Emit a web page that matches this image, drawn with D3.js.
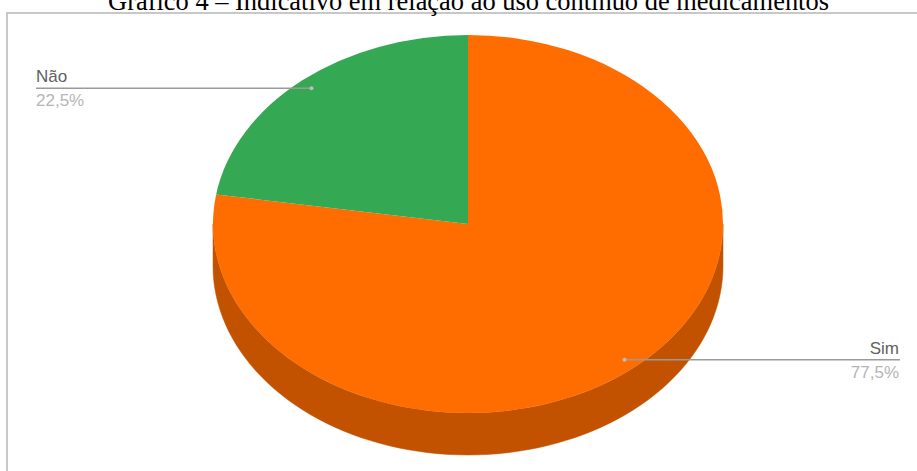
<!DOCTYPE html>
<html><head><meta charset="utf-8">
<script src="https://cdn.jsdelivr.net/npm/d3@7"></script>
<style>html,body{margin:0;padding:0;background:#fff;overflow:hidden}</style>
</head><body>
<svg id="chart" width="917" height="471"></svg>
<script>
const title = "Gráfico 4 – Indicativo em relação ao uso contínuo de medicamentos";
const categories = ["Sim", "Não"];
const values = [77.5, 22.5];
const percentLabels = ["77,5%", "22,5%"];
const colors = ["#ff6d01", "#34a853"];
const sideColors = ["#c25200", "#267d3d"];

const svg = d3.select("#chart");
const W = 917, H = 471;

// frame
svg.append("line").attr("x1", 6).attr("x2", W).attr("y1", 13).attr("y2", 13)
  .attr("stroke", "#c8c8c8").attr("stroke-width", 2);
svg.append("line").attr("x1", 7).attr("x2", 7).attr("y1", 12).attr("y2", H)
  .attr("stroke", "#c8c8c8").attr("stroke-width", 2);

// title
const t = svg.append("text").attr("x", 468.5).attr("y", 10).attr("text-anchor", "middle")
  .attr("font-family", "'Liberation Serif','Times New Roman',serif").attr("font-size", 21)
  .attr("fill", "#000").text(title);
const tw = t.node().getComputedTextLength();
t.attr("font-size", 21 * 721 / tw);

// pie geometry
const cx = 468, cy = 224, rx = 255, ry = 189, depth = 42;
const pie = d3.pie().sort(null).value(d => d.v);
const arcs = pie(categories.map((c, i) => ({ c, v: values[i], i })));
const pt = (a, r = rx, dy = 0) => [cx + r * Math.sin(a), cy - (ry / rx) * r * Math.cos(a) + dy];

// side walls (front half only, angles pi/2..3pi/2)
arcs.forEach(a => {
  const a0 = Math.max(a.startAngle, Math.PI / 2), a1 = Math.min(a.endAngle, 3 * Math.PI / 2);
  if (a1 <= a0) return;
  const n = 80;
  const top = d3.range(n + 1).map(k => pt(a0 + (a1 - a0) * k / n));
  const bot = top.map(p => [p[0], p[1] + depth]).reverse();
  svg.append("path").attr("d", d3.line()(top.concat(bot)) + "Z")
    .attr("fill", sideColors[a.data.i]).attr("stroke", sideColors[a.data.i]).attr("stroke-width", 0.5);
});

// top faces via d3.arc scaled vertically
const g = svg.append("g").attr("transform", `translate(${cx},${cy}) scale(1,${ry / rx})`);
const arcGen = d3.arc().innerRadius(0).outerRadius(rx);
g.selectAll("path.top").data(arcs).join("path").attr("class", "top")
  .attr("d", arcGen).attr("fill", d => colors[d.data.i]);

// labels
const lf = "'Liberation Sans',Arial,sans-serif";
arcs.forEach(a => {
  const mid = (a.startAngle + a.endAngle) / 2;
  const p = pt(mid, 241);
  const right = Math.sin(mid) > 0;
  const xEnd = right ? 900 : 36;
  svg.append("line").attr("x1", p[0]).attr("x2", xEnd).attr("y1", p[1]).attr("y2", p[1])
    .attr("stroke", "#9a9a9a").attr("stroke-width", 1.5);
  svg.append("circle").attr("cx", p[0]).attr("cy", p[1]).attr("r", 2).attr("fill", "#bdbdbd");
  const anchor = right ? "end" : "start";
  const tx = right ? 899 : 36;
  svg.append("text").attr("x", tx).attr("y", p[1] - 6).attr("text-anchor", anchor)
    .attr("font-family", lf).attr("font-size", 17).attr("fill", "#5f5f5f").text(a.data.c);
  svg.append("text").attr("x", tx).attr("y", p[1] + 18).attr("text-anchor", anchor)
    .attr("font-family", lf).attr("font-size", 17).attr("fill", "#b5b5b5").text(percentLabels[a.data.i]);
});
</script>
</body></html>
